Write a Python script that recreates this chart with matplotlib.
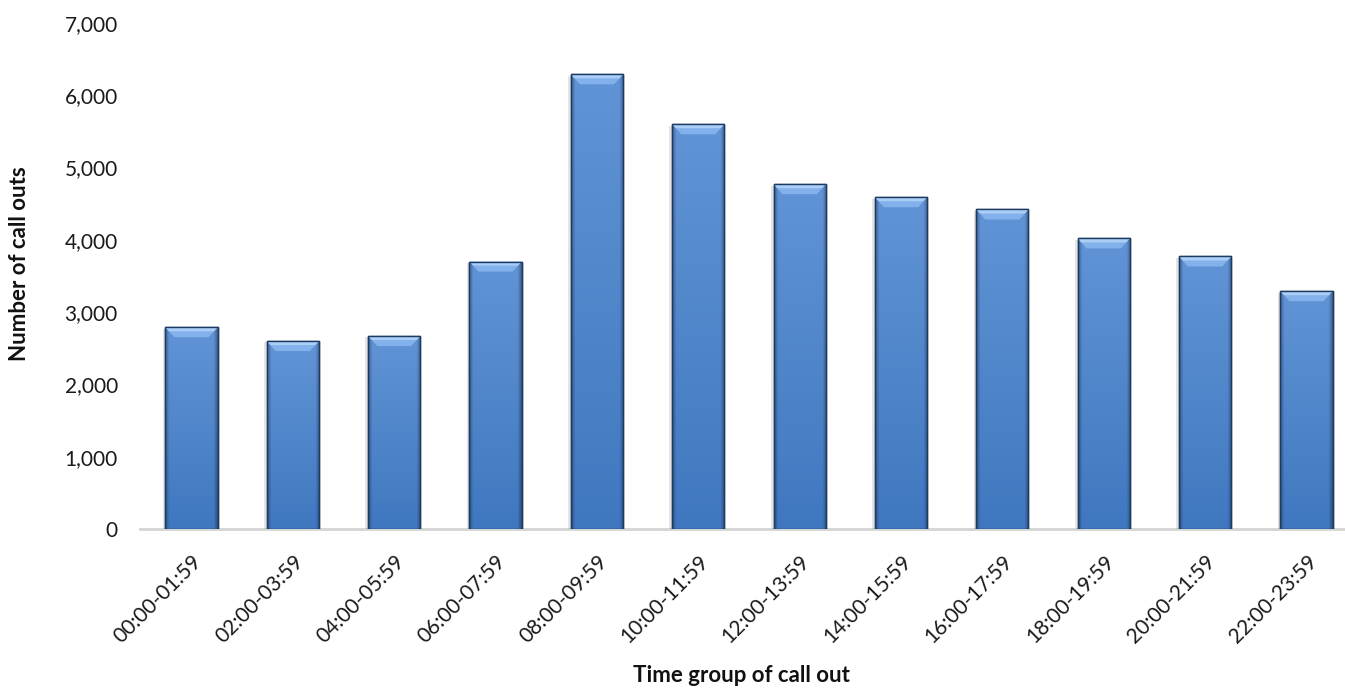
import matplotlib
matplotlib.use("Agg")
import matplotlib.pyplot as plt
import numpy as np
from matplotlib.patches import Polygon
import matplotlib.patheffects as pe
from matplotlib.ticker import FuncFormatter

categories = ["00:00-01:59", "02:00-03:59", "04:00-05:59", "06:00-07:59",
              "08:00-09:59", "10:00-11:59", "12:00-13:59", "14:00-15:59",
              "16:00-17:59", "18:00-19:59", "20:00-21:59", "22:00-23:59"]
call_outs = [2790, 2600, 2670, 3700, 6290, 5600, 4770, 4590, 4420, 4020, 3770, 3290]
y_ticks = [0, 1000, 2000, 3000, 4000, 5000, 6000, 7000]

plt.rcParams['font.family'] = ['Lato', 'DejaVu Sans']

W, H = 1345, 689
fig = plt.figure(figsize=(W / 100, H / 100), dpi=100)
fig.patch.set_facecolor('white')
ax = fig.add_axes([140 / W, 1 - 529 / H, (W - 140) / W, (529 - 23) / H])
ax.set_xlim(-0.508, 11.38)
ax.set_ylim(0, 7000)

x = np.arange(len(categories))
bar_w = 0.515
bars = ax.bar(x, call_outs, width=bar_w, color='#4a80c6', edgecolor='#1d3b62',
              linewidth=1.0, zorder=3,
              path_effects=[pe.SimplePatchShadow(offset=(-2, -1), shadow_rgbFace='#8a8a8a', alpha=0.22),
                            pe.Normal()])

# gradient fill for each bar (clipped to the bar)
ny, nx = 100, 60
xx = np.linspace(-1, 1, nx)
yy = np.linspace(0, 1, ny)[:, None]
top = np.array([0.38, 0.58, 0.84])
bot = np.array([0.25, 0.47, 0.75])
base = bot[None, None, :] + (top - bot)[None, None, :] * yy[:, :, None]
edge_dark = np.clip((np.abs(xx) - 0.85) / 0.15, 0, 1)[None, :, None]
img = base * (1 - 0.35 * edge_dark)
img = np.broadcast_to(img, (ny, nx, 3))

px_x = (1345 - 140) / (11.38 + 0.508)   # pixels per data unit (x)
px_y = (529 - 23) / 7000                # pixels per data unit (y)
bev_h = 10 / px_y
bev_in = 9 / px_x

for b in bars:
    x0, w, h = b.get_x(), b.get_width(), b.get_height()
    im = ax.imshow(img, extent=[x0, x0 + w, 0, h], origin='lower', aspect='auto',
                   zorder=3.5, interpolation='bilinear')
    im.set_clip_path(b)
    bevel = Polygon([[x0, h], [x0 + w, h], [x0 + w - bev_in, h - bev_h], [x0 + bev_in, h - bev_h]],
                    closed=True, facecolor='#86b5ee', edgecolor='none', zorder=3.6, alpha=0.9)
    ax.add_patch(bevel)
    hl = Polygon([[x0, h], [x0 + w, h], [x0 + w - bev_in * 0.4, h - bev_h * 0.4], [x0 + bev_in * 0.4, h - bev_h * 0.4]],
                 closed=True, facecolor='#b5d6fa', edgecolor='none', zorder=3.7, alpha=0.8)
    ax.add_patch(hl)
    outline = plt.Rectangle((x0, 0), w, h, facecolor='none', edgecolor='#1d3b62', linewidth=1.0, zorder=3.8)
    ax.add_patch(outline)

ax.set_xlim(-0.508, 11.38)
ax.set_ylim(0, 7000)

ax.set_yticks(y_ticks)
ax.yaxis.set_major_formatter(FuncFormatter(lambda v, p: f"{int(v):,}"))
ax.set_xticks(x)
ax.set_xticklabels(categories, rotation=45, ha='right', rotation_mode='anchor')
ax.tick_params(axis='y', length=0, pad=16, labelsize=15, labelcolor='#1a1a1a')
ax.tick_params(axis='x', length=0, pad=16, labelsize=15, labelcolor='#1a1a1a')

for s in ['top', 'right', 'left']:
    ax.spines[s].set_visible(False)
ax.spines['bottom'].set_color('#d4d4d4')
ax.spines['bottom'].set_linewidth(2)
ax.spines['bottom'].set_zorder(2)
ax.set_facecolor('none')

fig.text(741 / W, 1 - 676 / H, "Time group of call out", ha='center', va='center',
         fontsize=16, fontweight='bold', color='#111111')
fig.text(20 / W, 1 - 264 / H, "Number of call outs", ha='center', va='center',
         rotation=90, fontsize=16, fontweight='bold', color='#111111')

fig.savefig("out.png", dpi=100)
